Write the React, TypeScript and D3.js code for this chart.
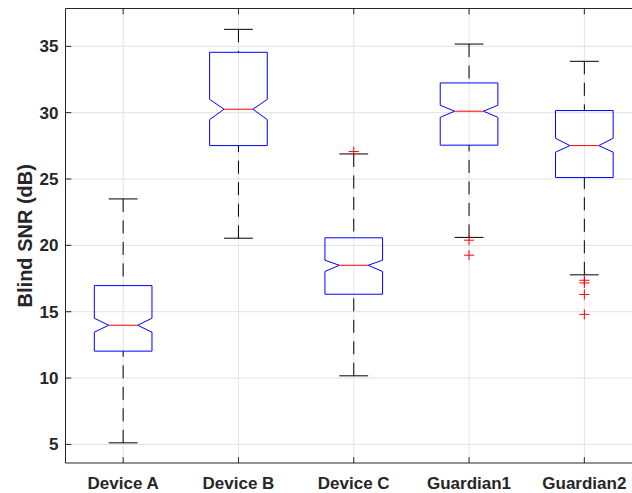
import React from 'react';
import * as d3 from 'd3';

const categories = ['Device A', 'Device B', 'Device C', 'Guardian1', 'Guardian2'];
const q1 = [12.03, 27.52, 16.32, 27.55, 25.11];
const medians = [13.98, 30.26, 18.5, 30.11, 27.52];
const q3 = [16.97, 34.55, 20.57, 32.24, 30.16];
const notchLo = [13.46, 29.48, 18.03, 29.65, 27.02];
const notchHi = [14.51, 31.0, 18.88, 30.56, 28.07];
const whiskerLo = [5.12, 20.54, 10.17, 20.6, 17.78];
const whiskerHi = [23.5, 36.28, 26.89, 35.17, 33.87];
const outliers: number[][] = [[], [], [27.07], [20.39, 19.26], [17.37, 17.17, 16.3, 14.8]];
const yTicks = [5, 10, 15, 20, 25, 30, 35];
const yLabel = 'Blind SNR (dB)';

const W = 632;
const H = 493;
const left = 65.5;
const top = 8.5;
const bottom = 463;
const rightEdge = 642;

export default function App() {
  const x = d3.scaleLinear().domain([0.5, categories.length + 0.5]).range([left, rightEdge]);
  const y = d3.scaleLinear().domain([3.6, 37.85]).range([bottom, top]);
  const step = x(2) - x(1);
  const bw = step * 0.25;
  const nw = step * 0.125;
  const tickLen = 5.8;
  const font = "'Liberation Sans', Arial, Helvetica, sans-serif";
  const txt = '#262626';

  return (
    <svg width={W} height={H} style={{ position: 'absolute', left: 0, top: 0, background: '#fff' }}>
      {/* grid */}
      <g stroke="#e3e3e3" strokeWidth={1}>
        {yTicks.map((t) => (
          <line key={'gy' + t} x1={left} x2={rightEdge} y1={y(t)} y2={y(t)} />
        ))}
        {categories.map((c, i) => (
          <line key={'gx' + c} x1={x(i + 1)} x2={x(i + 1)} y1={top} y2={bottom} />
        ))}
      </g>

      {/* boxes */}
      {categories.map((c, i) => {
        const cx = x(i + 1);
        const l = cx - bw;
        const r = cx + bw;
        const nl = cx - nw;
        const nr = cx + nw;
        const pts: [number, number][] = [
          [l, y(q1[i])],
          [l, y(notchLo[i])],
          [nl, y(medians[i])],
          [l, y(notchHi[i])],
          [l, y(q3[i])],
          [r, y(q3[i])],
          [r, y(notchHi[i])],
          [nr, y(medians[i])],
          [r, y(notchLo[i])],
          [r, y(q1[i])],
        ];
        const boxPath = d3.line()(pts) + 'Z';
        return (
          <g key={c}>
            <path
              d={`M${cx},${y(whiskerHi[i])}L${cx},${y(q3[i])}`}
              stroke="#000"
              strokeWidth={1}
              strokeDasharray="13,8.5"
              fill="none"
            />
            <path
              d={`M${cx},${y(whiskerLo[i])}L${cx},${y(q1[i])}`}
              stroke="#000"
              strokeWidth={1}
              strokeDasharray="13,8.5"
              fill="none"
            />
            <line x1={cx - nw} x2={cx + nw} y1={y(whiskerHi[i])} y2={y(whiskerHi[i])} stroke="#000" strokeWidth={1} />
            <line x1={cx - nw} x2={cx + nw} y1={y(whiskerLo[i])} y2={y(whiskerLo[i])} stroke="#000" strokeWidth={1} />
            <path d={boxPath} fill="none" stroke="#0000ff" strokeWidth={1} />
            <line x1={nl} x2={nr} y1={y(medians[i])} y2={y(medians[i])} stroke="#ff0000" strokeWidth={1} />
            {outliers[i].map((v, k) => (
              <g key={k} stroke="#ff0000" strokeWidth={1}>
                <line x1={cx - 5} x2={cx + 5} y1={y(v)} y2={y(v)} />
                <line x1={cx} x2={cx} y1={y(v) - 5} y2={y(v) + 5} />
              </g>
            ))}
          </g>
        );
      })}

      {/* axes */}
      <g stroke={txt} strokeWidth={1} fill="none">
        <line x1={left} x2={left} y1={top} y2={bottom} />
        <line x1={left} x2={rightEdge} y1={bottom} y2={bottom} />
        <line x1={left} x2={rightEdge} y1={top} y2={top} />
        {yTicks.map((t) => (
          <line key={'ty' + t} x1={left} x2={left + tickLen} y1={y(t)} y2={y(t)} />
        ))}
        {categories.map((c, i) => (
          <g key={'tx' + c}>
            <line x1={x(i + 1)} x2={x(i + 1)} y1={bottom} y2={bottom - tickLen} />
            <line x1={x(i + 1)} x2={x(i + 1)} y1={top} y2={top + tickLen} />
          </g>
        ))}
      </g>

      {/* tick labels */}
      <g fontFamily={font} fontWeight="bold" fontSize={17} fill={txt}>
        {yTicks.map((t) => (
          <text key={'ly' + t} x={left - 7} y={y(t)} dy="0.35em" textAnchor="end">
            {t}
          </text>
        ))}
        {categories.map((c, i) => (
          <text key={'lx' + c} x={x(i + 1)} y={489} textAnchor="middle">
            {c}
          </text>
        ))}
      </g>

      <text
        transform={`translate(32, ${(top + bottom) / 2}) rotate(-90)`}
        textAnchor="middle"
        fontFamily={font}
        fontWeight="bold"
        fontSize={20}
        fill={txt}
      >
        {yLabel}
      </text>
    </svg>
  );
}
